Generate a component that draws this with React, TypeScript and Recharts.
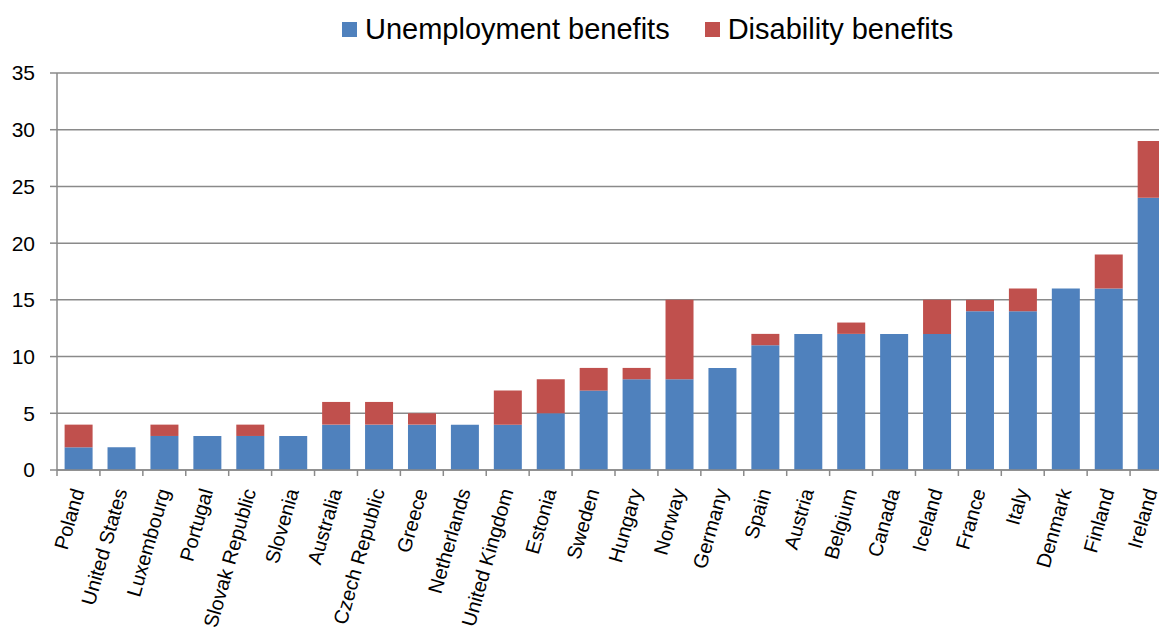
import { BarChart, Bar, XAxis, YAxis, CartesianGrid, Legend } from "recharts";

const countries = [
  "Poland", "United States", "Luxembourg", "Portugal", "Slovak Republic", "Slovenia",
  "Australia", "Czech Republic", "Greece", "Netherlands", "United Kingdom", "Estonia",
  "Sweden", "Hungary", "Norway", "Germany", "Spain", "Austria", "Belgium", "Canada",
  "Iceland", "France", "Italy", "Denmark", "Finland", "Ireland",
];
const unemployment = [2, 2, 3, 3, 3, 3, 4, 4, 4, 4, 4, 5, 7, 8, 8, 9, 11, 12, 12, 12, 12, 14, 14, 16, 16, 24];
const disability = [2, 0, 1, 0, 1, 0, 2, 2, 1, 0, 3, 3, 2, 1, 7, 0, 1, 0, 1, 0, 3, 1, 2, 0, 3, 5];
const yTicks = [0, 5, 10, 15, 20, 25, 30, 35];

const rows = countries.map((name, i) => ({
  name,
  unemployment: unemployment[i],
  disability: disability[i],
}));

const CHART_W = 1174;
const CHART_H = 630;
const Y_W = 57;
const BAND = (CHART_W - Y_W - 1) / countries.length;
const FONT = "'Liberation Sans', Arial, sans-serif";
const AXIS_GREY = "#8a8a8a";

// tick marks sit on the category boundaries, labels slant up to the right
function CountryTick({ x, y, payload, index }: any) {
  return (
    <g>
      <line x1={x - BAND / 2} x2={x - BAND / 2} y1={y} y2={y + 6} stroke={AXIS_GREY} strokeWidth={1.5} />
      {index === countries.length - 1 && (
        <line x1={x + BAND / 2} x2={x + BAND / 2} y1={y} y2={y + 6} stroke={AXIS_GREY} strokeWidth={1.5} />
      )}
      <text
        transform={`translate(${x + 6},${y + 21}) rotate(-74)`}
        textAnchor="end"
        fontSize={20}
        fontFamily={FONT}
        fill="#000"
      >
        {payload.value}
      </text>
    </g>
  );
}

function TopLegend() {
  const item = (color: string, label: string) => (
    <div style={{ display: "flex", alignItems: "center" }}>
      <span style={{ width: 15, height: 15, background: color, marginRight: 8 }} />
      <span>{label}</span>
    </div>
  );
  return (
    <div style={{ position: "relative", height: 73 }}>
      <div
        style={{
          position: "absolute",
          top: 12,
          left: 342,
          display: "flex",
          alignItems: "center",
          gap: 35,
          fontFamily: FONT,
          fontSize: 29,
          lineHeight: "35px",
          color: "#000",
          whiteSpace: "nowrap",
        }}
      >
        {item("#4f81bd", "Unemployment benefits")}
        {item("#c0504d", "Disability benefits")}
      </div>
    </div>
  );
}

export default function App() {
  return (
    <div style={{ position: "absolute", left: 0, top: 0, width: 1159, height: 630, overflow: "hidden", background: "#fff" }}>
      <BarChart
        width={CHART_W}
        height={CHART_H}
        data={rows}
        margin={{ top: 0, right: 1, bottom: 0, left: 0 }}
        barCategoryGap="17.7%"
      >
        <Legend verticalAlign="top" content={<TopLegend />} wrapperStyle={{ top: 0, left: 0, width: CHART_W }} />
        <CartesianGrid vertical={false} stroke={AXIS_GREY} strokeWidth={1.5} />
        <XAxis
          dataKey="name"
          interval={0}
          height={160}
          tickSize={0}
          tickMargin={0}
          tickLine={false}
          axisLine={{ stroke: AXIS_GREY, strokeWidth: 1.5 }}
          tick={<CountryTick />}
        />
        <YAxis
          width={Y_W}
          domain={[0, 35]}
          ticks={yTicks}
          interval={0}
          tickSize={7}
          tickMargin={15}
          tickLine={{ stroke: AXIS_GREY, strokeWidth: 1.5 }}
          axisLine={{ stroke: AXIS_GREY, strokeWidth: 1.5 }}
          tick={{ fill: "#000", fontSize: 21, fontFamily: FONT }}
        />
        <Bar dataKey="unemployment" name="Unemployment benefits" stackId="a" fill="#4f81bd" isAnimationActive={false} />
        <Bar dataKey="disability" name="Disability benefits" stackId="a" fill="#c0504d" isAnimationActive={false} />
      </BarChart>
    </div>
  );
}
